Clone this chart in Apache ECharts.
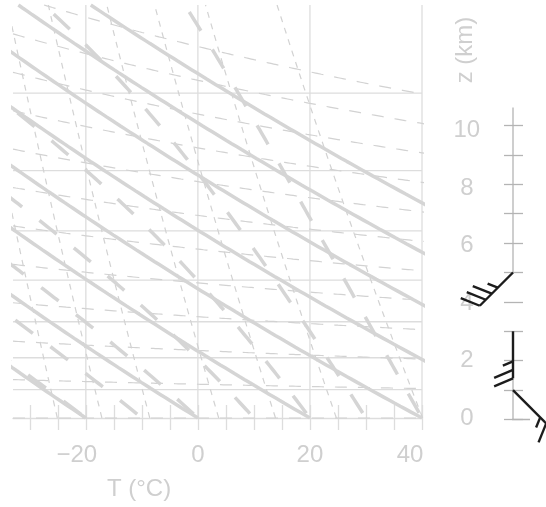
<!DOCTYPE html>
<html><head><meta charset="utf-8">
<script src="https://cdn.jsdelivr.net/npm/echarts@6/dist/echarts.min.js"></script>
<style>html,body{margin:0;padding:0;background:#fff;}#c{width:546px;height:507px;}</style>
</head><body><div id="c"></div>
<script>
// ---------------- data ----------------
const xTickValues = [-30,-25,-20,-15,-10,-5,0,5,10,15,20,25,30,35,40];
const xTickLabels = [-20,0,20,40];
const isotherms = [-20,0,20,40];                 // °C
const isobars = [900,800,700,600,500,400,300];   // hPa
const dryAdiabatThetas = [-20,0,20,40,60,80,100,120];  // °C at 1000 hPa
const moistAdiabatThetaWs = [-20,-10,0,10,20,30,40];   // °C at 1000 hPa
const mixingRatios = [0.5,1,2,5,10,20,50];             // g/kg
const heightLines = [0,1,2,3,4,5,6,7,8,9,10,11];       // km
const heightLabels = [0,2,4,6,8,10];                   // km
const windHeights = [1,3,5];          // km
const windDirections = [135,180,225]; // deg (from)
const windSpeeds = [15,25,35];        // kt
const barbAxisTicks = [0,1,2,3,4,5,6,7,8,9,10];

// ---------------- diagram definition ----------------
const T_MIN = -33, T_MAX = 40, P_BOT = 1000, P_TOP = 216.5, Z_MAX = 10.61;
const Rd = 287.04, g = 9.81, cp = 1005.7, Lv = 2.501e6, eps = 0.622, K0 = 273.15;
const es = T => 6.112*Math.exp(17.67*T/(T+243.5));
const pLevels = [];
for (let i=0;i<=140;i++) pLevels.push(P_BOT*Math.pow(P_TOP/P_BOT, i/140));

function dryLine(th){ return pLevels.map(p => [(th+K0)*Math.pow(p/1000,Rd/cp)-K0, p]); }
function mixLine(w){ return pLevels.map(p => { const e=w*p/(622+w); const l=Math.log(e/6.112); return [243.5*l/(17.67-l), p]; }); }
function moistLine(tw){
  let T = tw+K0, p = P_BOT; const out=[[tw,p]];
  const f = (T,p) => { const e=es(T-K0); const rs=eps*e/(p-e); return (Rd*T+Lv*rs)/(cp+Lv*Lv*rs*eps/(Rd*T*T))/p; };
  let n=0;
  while (p > P_TOP){
    let dp = -1; if (p+dp < P_TOP) dp = P_TOP-p;
    const k1=f(T,p), k2=f(T+k1*dp/2,p+dp/2);
    T += k2*dp; p += dp; n++;
    if (n%4===0 || p<=P_TOP) out.push([T-K0,p]);
  }
  return out;
}
function pAtHeight(z,T){ return 1000*Math.exp(-g*z*1000/(Rd*(T+K0))); }
function heightLine(z){
  const tStart = Math.max(T_MIN, g*z*1000/(Rd*Math.log(1000/P_TOP))-K0);
  const pts=[]; for (let T=tStart; T<44.5; T+=0.5) pts.push([T,pAtHeight(z,T)]);
  pts.push([44.5,pAtHeight(z,44.5)]); return pts;
}

const GRID = '#dddddd', THICK = '#d5d5d5', THIN = '#d2d2d2', TXT = '#cfcfcf', AX2 = '#b4b4b4';
const FONT = '"Liberation Sans", Arial, sans-serif';
const base = {type:'line', symbol:'none', silent:true, animation:false, xAxisIndex:0, yAxisIndex:0};
const series = [];
isotherms.forEach(t => series.push(Object.assign({}, base, {z:1, data:[[t,P_BOT],[t,P_TOP]], lineStyle:{color:GRID,width:1.3}})));
isobars.forEach(p => series.push(Object.assign({}, base, {z:1, data:[[T_MIN,p],[T_MAX,p]], lineStyle:{color:GRID,width:1.3}})));
heightLines.forEach(z => series.push(Object.assign({}, base, {z:2, clip:false, data:heightLine(z), lineStyle:{color:THIN,width:1.2,type:[12,11]}})));
mixingRatios.forEach(w => series.push(Object.assign({}, base, {z:2, clip:true, data:mixLine(w), lineStyle:{color:THIN,width:1.2,type:[6,6]}})));
dryAdiabatThetas.forEach(th => series.push(Object.assign({}, base, {z:3, clip:true, data:dryLine(th), lineStyle:{color:THICK,width:3.5}})));
moistAdiabatThetaWs.forEach(tw => series.push(Object.assign({}, base, {z:3, clip:true, data:moistLine(tw), lineStyle:{color:THICK,width:3.5,type:[22,22],dashOffset:38}})));

// height labels on the right of the diagram
series.push({type:'custom', xAxisIndex:0, yAxisIndex:0, clip:false, silent:true, animation:false, z:4,
  data: heightLabels.map(z => [48, pAtHeight(z,48), z]),
  renderItem: (params, api) => { const c = api.coord([api.value(0), api.value(1)]);
    return {type:'text', x:c[0], y:c[1], style:{text:String(api.value(2)), align:'center', verticalAlign:'middle', fontSize:24, fontFamily:FONT, fill:TXT}}; }
});

// wind-barb panel
series.push({type:'line', symbol:'none', silent:true, animation:false, xAxisIndex:2, yAxisIndex:1, clip:false, z:5, data:[[0,0],[0,3]], lineStyle:{color:AX2,width:1.3}});
series.push({type:'line', symbol:'none', silent:true, animation:false, xAxisIndex:2, yAxisIndex:1, clip:false, z:5, data:[[0,5],[0,Z_MAX]], lineStyle:{color:AX2,width:1.3}});
series.push({type:'line', symbol:'none', silent:true, animation:false, xAxisIndex:2, yAxisIndex:1, clip:false, z:5, data:[[-16,0],[17,0]], lineStyle:{color:AX2,width:1.3}});
series.push({type:'custom', xAxisIndex:2, yAxisIndex:1, clip:false, silent:true, animation:false, z:10,
  data: windHeights.map((z,i) => [0, z, windDirections[i], windSpeeds[i]]),
  renderItem: (params, api) => {
    const c = api.coord([api.value(0), api.value(1)]);
    const dir = api.value(2)*Math.PI/180, spd = api.value(3);
    const ux = Math.sin(dir), uy = -Math.cos(dir), px = -uy, py = ux;
    const L = 47, sp = 8.5, fullLen = 20.5, halfLen = 11, a = 23*Math.PI/180;
    const bx = Math.cos(a)*px + Math.sin(a)*ux, by = Math.cos(a)*py + Math.sin(a)*uy;
    const st = {stroke:'#1c1c1c', lineWidth:2.4, lineCap:'butt'};
    const ch = [{type:'line', shape:{x1:c[0], y1:c[1], x2:c[0]+ux*L, y2:c[1]+uy*L}, style:st}];
    let d = L; const nFull = Math.floor(spd/10), nHalf = (spd%10)>=5 ? 1 : 0;
    for (let i=0;i<nFull;i++){ const x0=c[0]+ux*d, y0=c[1]+uy*d; ch.push({type:'line', shape:{x1:x0,y1:y0,x2:x0+bx*fullLen,y2:y0+by*fullLen}, style:st}); d-=sp; }
    for (let i=0;i<nHalf;i++){ const x0=c[0]+ux*d, y0=c[1]+uy*d; ch.push({type:'line', shape:{x1:x0,y1:y0,x2:x0+bx*halfLen,y2:y0+by*halfLen}, style:st}); d-=sp; }
    return {type:'group', children:ch};
  }
});

const labelRich = {
  neg:{fontSize:24, fontFamily:FONT, color:TXT, padding:[0,18,0,0]},
  end:{fontSize:24, fontFamily:FONT, color:TXT, padding:[0,24,0,0]},
  n:{fontSize:24, fontFamily:FONT, color:TXT}
};
const chart = echarts.init(document.getElementById('c'), null, {renderer:'canvas'});
chart.setOption({
  animation:false,
  backgroundColor:'#ffffff',
  grid:[{left:13, top:5, width:409, height:413}, {left:513, top:107.6, width:30, height:311.9}],
  xAxis:[
    {type:'value', gridIndex:0, min:T_MIN, max:T_MAX, position:'bottom',
     axisLine:{show:true, onZero:false, lineStyle:{color:GRID, width:1.3}},
     axisTick:{show:true, inside:false, length:12, customValues:xTickValues, lineStyle:{color:GRID, width:1.3}},
     axisLabel:{show:true, customValues:xTickLabels, margin:25, fontSize:24, fontFamily:FONT, color:TXT, rich:labelRich,
       formatter: v => v<0 ? '{neg|\u2212'+Math.abs(v)+'}' : (v===T_MAX ? '{end|'+v+'}' : '{n|'+v+'}')},
     splitLine:{show:false}},
    {type:'value', gridIndex:0, min:T_MIN, max:T_MAX, position:'bottom', offset:0,
     axisLine:{show:false, onZero:false}, axisTick:{show:true, inside:true, length:13, customValues:xTickValues, lineStyle:{color:GRID, width:1.3}},
     axisLabel:{show:false}, splitLine:{show:false}},
    {type:'value', gridIndex:1, min:0, max:30, show:false}
  ],
  yAxis:[
    {type:'log', logBase:10, gridIndex:0, min:P_TOP, max:P_BOT, inverse:true, show:false},
    {type:'value', gridIndex:1, min:0, max:Z_MAX, position:'left', offset:0,
     axisLine:{show:false}, axisTick:{show:true, inside:false, length:9, customValues:barbAxisTicks, lineStyle:{color:AX2, width:1.3}},
     axisLabel:{show:false}, splitLine:{show:false}},
    {type:'value', gridIndex:1, min:0, max:Z_MAX, position:'left', offset:0,
     axisLine:{show:false}, axisTick:{show:true, inside:true, length:10, customValues:barbAxisTicks, lineStyle:{color:AX2, width:1.3}},
     axisLabel:{show:false}, splitLine:{show:false}}
  ],
  graphic:[
    {type:'text', x:139, y:489, style:{text:'T (°C)', align:'center', verticalAlign:'middle', fontSize:24, fontFamily:FONT, fill:TXT}},
    {type:'text', x:465, y:50, rotation:Math.PI/2, style:{text:'z (km)', align:'center', verticalAlign:'middle', fontSize:24, fontFamily:FONT, fill:TXT}}
  ],
  series: series
});
</script></body></html>
